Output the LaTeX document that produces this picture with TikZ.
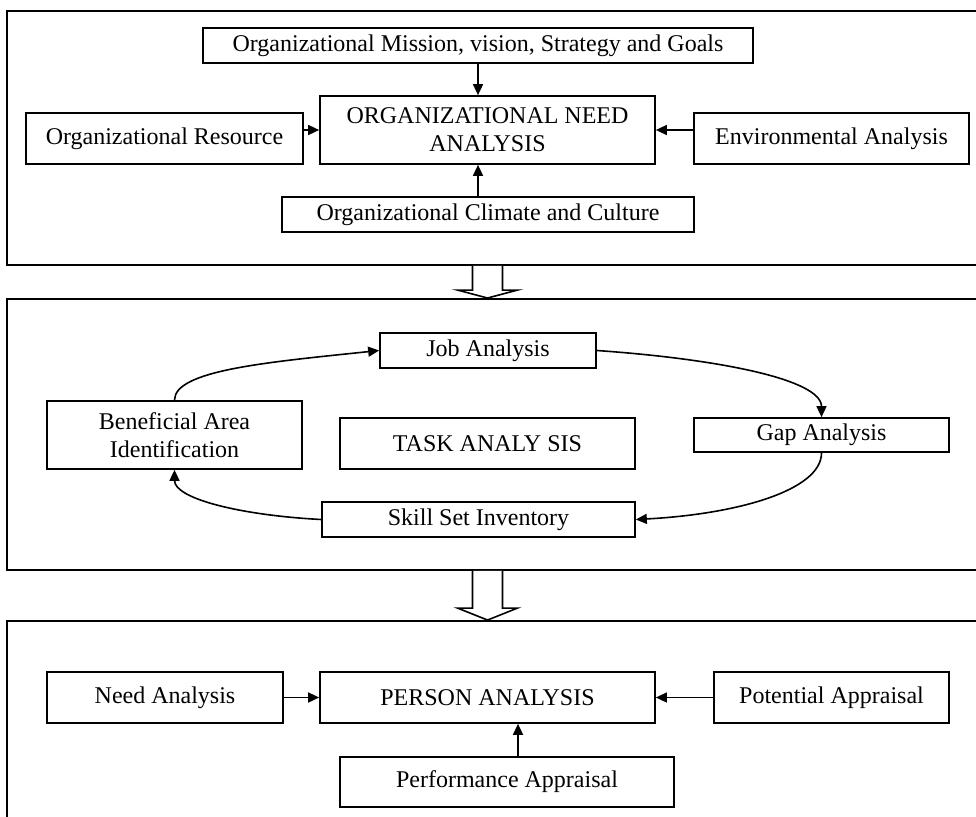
\documentclass[tikz,border=0pt]{standalone}
\usepackage{fontspec}
\setmainfont{Liberation Serif}
\usetikzlibrary{arrows.meta,calc}
\begin{document}
\begin{tikzpicture}[x=1pt,y=1pt,
  box/.style={draw, line width=1.7pt, inner sep=0pt, align=center, font=\fontsize{24}{28}\selectfont},
  arr/.style={line width=1.6pt, -{Triangle[length=11pt,width=10pt]}},
  panel/.style={draw, line width=1.9pt, inner sep=0pt},
  blk/.style={line width=1.6pt, fill=white, line join=miter}]
\clip (0,0) rectangle (976,-816);
\fill[white] (0,0) rectangle (976,-816);
% panels
\node[panel, minimum width=978pt, minimum height=254pt] (p1) at (496,-138) {};
\node[panel, minimum width=978pt, minimum height=271pt] (p2) at (496,-434.5) {};
\node[panel, minimum width=978pt, minimum height=209pt] (p3) at (496,-725.5) {};
% top panel
\node[box, minimum width=550pt, minimum height=35pt] (mission) at (478,-45.5) {Organizational Mission, vision, Strategy and Goals};
\node[box, minimum width=335pt, minimum height=68pt] (orgneed) at (487.5,-130) {ORGANIZATIONAL NEED\\ANALYSIS};
\node[box, minimum width=277pt, minimum height=51pt] (orgres) at (164.5,-138.5) {Organizational Resource};
\node[box, minimum width=275pt, minimum height=51pt] (env) at (831.5,-138.5) {Environmental Analysis};
\node[box, minimum width=412pt, minimum height=35pt] (climate) at (488,-214.5) {Organizational Climate and Culture};
\draw[arr] (mission.south) -- (mission.south |- orgneed.north);
\draw[arr] (mission.south |- climate.north) -- (mission.south |- orgneed.south);
\draw[arr] (orgres.east |- orgneed.west) -- (orgneed.west);
\draw[arr] (env.west |- orgneed.east) -- (orgneed.east);
% middle panel
\node[box, minimum width=216pt, minimum height=35pt] (job) at (488,-350.5) {Job Analysis};
\node[box, minimum width=255pt, minimum height=68pt] (ben) at (174.5,-435) {Beneficial Area\\Identification};
\node[box, minimum width=295pt, minimum height=51pt] (task) at (487.5,-443.5) {TASK ANALY SIS};
\node[box, minimum width=255pt, minimum height=34pt] (gap) at (821.5,-435) {Gap Analysis};
\node[box, minimum width=313pt, minimum height=35pt] (skill) at (478.5,-519.5) {Skill Set Inventory};
\draw[arr] (ben.north) to[out=90,in=186,out distance=30pt,in distance=112pt] (job.west);
\draw[arr] (job.east) to[out=-4,in=90,out distance=120pt,in distance=38pt] (gap.north);
\draw[arr] (gap.south) to[out=-90,in=3,out distance=38pt,in distance=100pt] (skill.east);
\draw[arr] (skill.west) to[out=177,in=-90,out distance=80pt,in distance=29pt] (ben.south);
% bottom panel
\node[box, minimum width=236pt, minimum height=51pt] (need) at (165,-697.5) {Need Analysis};
\node[box, minimum width=335pt, minimum height=51pt] (person) at (487.5,-697.5) {PERSON ANALYSIS};
\node[box, minimum width=235pt, minimum height=51pt] (pot) at (831.5,-697.5) {Potential Appraisal};
\node[box, minimum width=334pt, minimum height=50pt] (perf) at (507,-782) {Performance Appraisal};
\draw[arr] (need) -- (person);
\draw[arr] (pot) -- (person);
\coordinate (pa) at ($(perf.north)+(11,0)$);
\draw[arr] (pa) -- (pa |- person.south);
% block arrows between panels
\coordinate (a1) at (p1.south -| orgneed.south);
\coordinate (b1) at (p2.north -| orgneed.south);
\draw[blk] ($(a1)+(-15,0)$) -- ($(b1)+(-15,8)$) -- ($(b1)+(-30,8)$) -- (b1) -- ($(b1)+(30,8)$) -- ($(b1)+(15,8)$) -- ($(a1)+(15,0)$);
\coordinate (a2) at (p2.south -| orgneed.south);
\coordinate (b2) at (p3.north -| orgneed.south);
\draw[blk] ($(a2)+(-15,0)$) -- ($(b2)+(-15,12)$) -- ($(b2)+(-30,12)$) -- (b2) -- ($(b2)+(30,12)$) -- ($(b2)+(15,12)$) -- ($(a2)+(15,0)$);
\end{tikzpicture}
\end{document}
